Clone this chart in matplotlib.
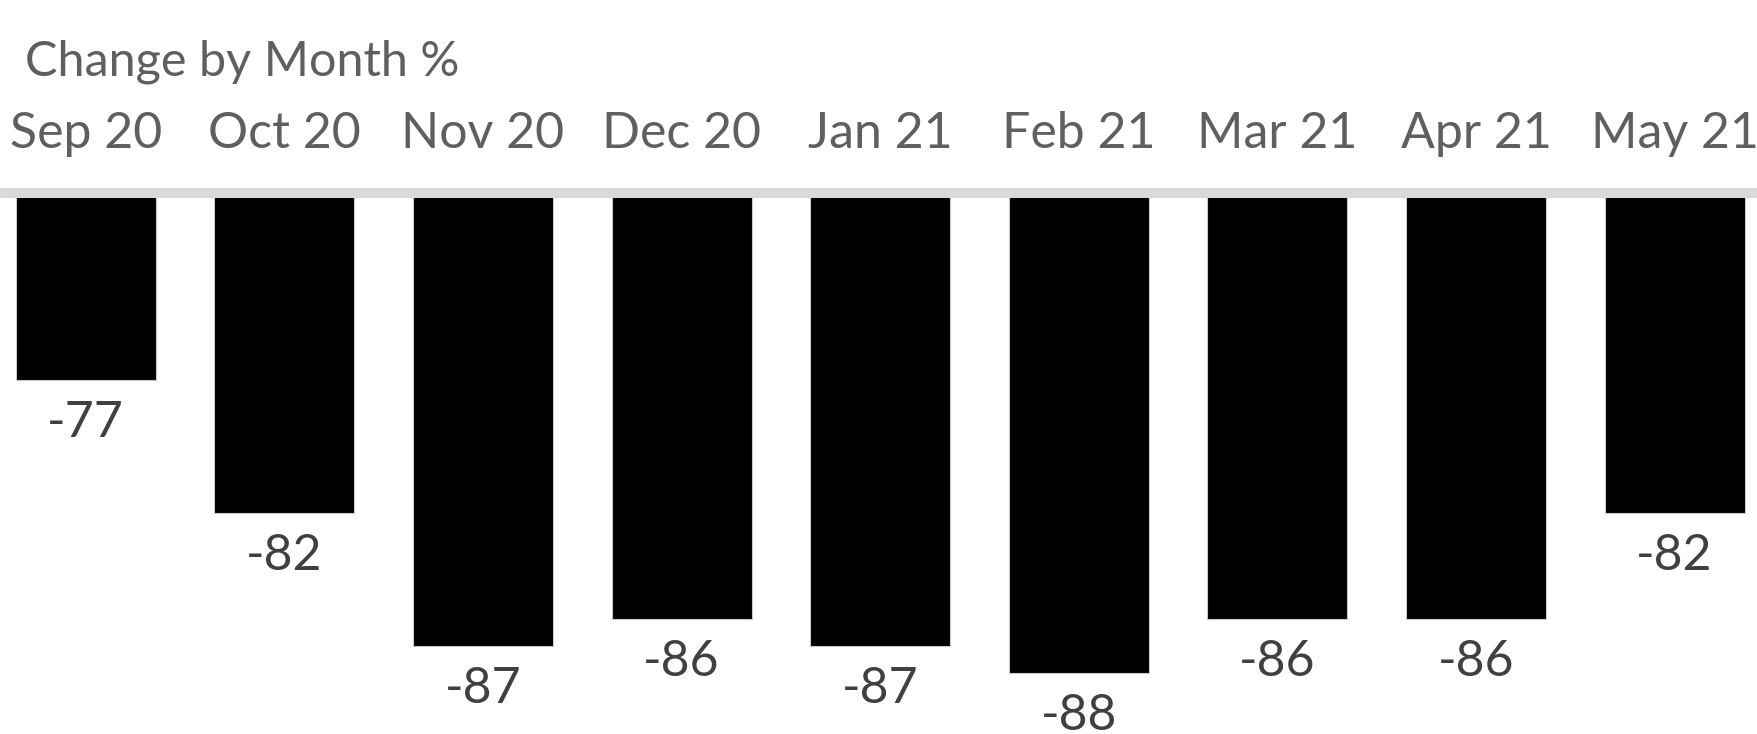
import matplotlib
matplotlib.use("Agg")
import matplotlib.pyplot as plt
from matplotlib.transforms import blended_transform_factory

categories = ["Sep 20", "Oct 20", "Nov 20", "Dec 20", "Jan 21", "Feb 21", "Mar 21", "Apr 21", "May 21"]
values = [-77, -82, -87, -86, -87, -88, -86, -86, -82]
title = "Change by Month %"

W, H, DPI = 1758, 734, 100
FONT = ["Lato", "DejaVu Sans"]

fig = plt.figure(figsize=(W / DPI, H / DPI), dpi=DPI)
axis_y_px = 193
ax = fig.add_axes([0, 0, 1, 1 - axis_y_px / H])

x = list(range(len(categories)))
ax.bar(x, values, width=0.705, color="black", edgecolor="#c8c8c8", linewidth=0.8, zorder=2)

spacing_px = 198.6
first_px = 85.8
ax.set_xlim(-first_px / spacing_px, (W - first_px) / spacing_px)
ax.set_ylim(-90.3, -70.0)

for s in ["left", "right", "bottom"]:
    ax.spines[s].set_visible(False)
ax.spines["top"].set_color("#d9d9d9")
ax.spines["top"].set_linewidth(10 * 72 / DPI)
ax.spines["top"].set_zorder(3)
ax.set_xticks([])
ax.set_yticks([])

tr = blended_transform_factory(ax.transData, fig.transFigure)
for xi, cat in zip(x, categories):
    ax.text(xi, 1 - 148 / H, cat, transform=tr, ha="center", va="baseline",
            fontsize=36, color="#5f5f5f", family=FONT)

for xi, v in zip(x, values):
    ax.annotate(f"{v}", (xi, v), xytext=(0, -57 * 72 / DPI), textcoords="offset points",
                ha="center", va="baseline", fontsize=36, color="#404040",
                family=FONT, annotation_clip=False)

fig.text(24.7 / W, 1 - 75 / H, title, ha="left", va="baseline", fontsize=35,
         color="#5f5f5f", family=FONT)

fig.savefig("out.png", dpi=DPI)
